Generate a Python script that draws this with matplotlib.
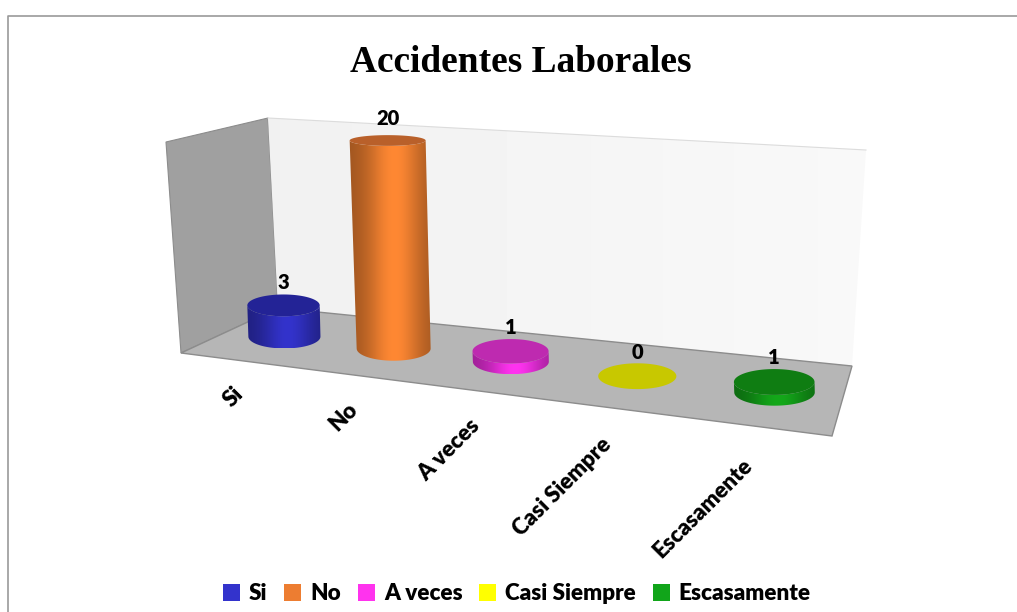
import numpy as np
import matplotlib
matplotlib.use("Agg")
import matplotlib.pyplot as plt
from matplotlib.patches import Patch, PathPatch, Polygon
from matplotlib.path import Path
from matplotlib.colors import to_rgb

# data
categories = ["Si", "No", "A veces", "Casi Siempre", "Escasamente"]
values = [3, 20, 1, 0, 1]
side_colors = ["#3333cc", "#ff8833", "#ff33f0", "#ffff00", "#14a81a"]
top_colors = ["#232396", "#b9602a", "#be2ab0", "#c8c800", "#0f7d12"]
legend_colors = ["#3333cc", "#ed7d31", "#ff33ee", "#ffff00", "#11a51a"]

# floor corners in pixels: front left, front right, back right, back left
floor = np.array([[181, 353], [832, 436], [852, 366], [278, 308]], dtype=float)
back_wall = [(278, 308), (852, 366), (866, 150), (268, 118)]
left_wall = [(181, 353), (278, 308), (268, 118), (166, 142)]
px_per_unit = 10.4

plt.rcParams["font.family"] = ["Lato", "DejaVu Sans"]

fig = plt.figure(figsize=(10.17, 6.12), dpi=100)
ax = fig.add_axes([0, 0, 1, 1])


# maps the floor square (u, v) to the screen
def make_homography(pts):
    src = [(0, 0), (1, 0), (1, 1), (0, 1)]
    A = []
    b = []
    for (u, v), (x, y) in zip(src, pts):
        A.append([u, v, 1, 0, 0, 0, -u * x, -v * x])
        A.append([0, 0, 0, u, v, 1, -u * y, -v * y])
        b += [x, y]
    h = np.linalg.solve(np.array(A), np.array(b))
    return np.append(h, 1).reshape(3, 3)


H = make_homography(floor)


def project(u, v):
    p = H @ np.array([u, v, 1.0])
    return p[:2] / p[2]


# base centres along the middle of the floor, perspective softened a bit
n = len(values)
base = np.array([project((i + 0.5) / n + 0.012, 0.47) for i in range(n)])
even_x = np.linspace(base[0, 0], base[-1, 0], n)
base[:, 0] = 0.75 * base[:, 0] + 0.25 * even_x


def shade(color, n=80):
    # dark at both edges, brightest a bit right of the middle
    t = np.linspace(0, 1, n)
    f = 0.62 + 0.38 * np.exp(-((t - 0.55) / 0.33) ** 2)
    return (np.outer(f, np.array(to_rgb(color))))[None, :, :]


def draw_cylinder(i, value):
    cx, cy = base[i]
    hw = 33.6 + 0.0086 * cx
    hh = hw * 0.33
    tx = cx - 0.3 * value
    ty = cy - value * px_per_unit
    top_hw = hw + 0.05 * value
    top_hh = hh * (1 - 0.028 * value)

    if value > 0:
        a = np.linspace(np.pi, 0, 60)
        low = np.column_stack([cx + hw * np.cos(a), cy + hh * np.sin(a)])
        a = np.linspace(0, np.pi, 60)
        up = np.column_stack([tx + top_hw * np.cos(a), ty + top_hh * np.sin(a)])
        pts = np.vstack([low, up, low[:1]])
        body = PathPatch(Path(pts), fc="none", ec="none")
        ax.add_patch(body)
        left = min(cx - hw, tx - top_hw) - 1
        right = max(cx + hw, tx + top_hw) + 1
        im = ax.imshow(shade(side_colors[i]), aspect="auto", zorder=3,
                       extent=[left, right, cy + hh, ty - top_hh])
        im.set_clip_path(body)

    a = np.linspace(0, 2 * np.pi, 120)
    cap = np.column_stack([tx + top_hw * np.cos(a), ty + top_hh * np.sin(a)])
    ax.add_patch(Polygon(cap, closed=True, fc=top_colors[i], ec="none", zorder=4))
    ax.text(tx, ty - top_hh - 11 - 0.3 * value, str(value), ha="center", va="center",
            fontsize=14.5, fontweight="heavy", color="black", zorder=5)


# walls and floor
ax.add_patch(Polygon(left_wall, closed=True, fc="#a0a0a0", ec="#8c8c8c", lw=0.8, zorder=1))
wall = Polygon(back_wall, closed=True, fc="none", ec="none", zorder=1)
ax.add_patch(wall)
grad = np.linspace(0.945, 0.975, 50)[None, :]
im = ax.imshow(grad, cmap="gray", vmin=0, vmax=1, aspect="auto", zorder=1,
               extent=[268, 866, 366, 118])
im.set_clip_path(wall)
ax.plot([268, 866], [118, 150], color="#dcdcdc", lw=0.8, zorder=1)
ax.add_patch(Polygon(floor, closed=True, fc="#b6b6b6", ec="#8c8c8c", lw=1.0, zorder=2))

for i, val in enumerate(values):
    draw_cylinder(i, val)

# slanted category labels, anchored under the front floor edge
for i, cat in enumerate(categories):
    y = project((i + 0.5) / n, 0)[1]
    ax.text(base[i, 0] - 44 + 4.7 * i, y + 31 + 1.5 * i, cat, rotation=45, rotation_mode="anchor",
            ha="right", va="center", fontsize=16, fontweight="heavy", color="black")

ax.text(521, 62, "Accidentes Laborales", ha="center", va="center",
        family="Liberation Serif", fontsize=26.9, fontweight="bold", color="black")

# chart frame
ax.plot([7.5, 7.5, 1017], [612, 15.5, 15.5], color="#9a9a9a", lw=1.2, zorder=6)

handles = [Patch(fc=c, ec="none", label=name) for c, name in zip(legend_colors, categories)]
fig.legend(handles=handles, loc="center", bbox_to_anchor=(517 / 1017, 1 - 594 / 612),
           ncol=5, frameon=False, handlelength=0.75, handleheight=0.75,
           handletextpad=0.4, columnspacing=0.75, prop={"weight": "heavy", "size": 16.2})

ax.set_xlim(0, 1017)
ax.set_ylim(612, 0)
ax.axis("off")
fig.savefig("out.png", dpi=100, facecolor="white")
